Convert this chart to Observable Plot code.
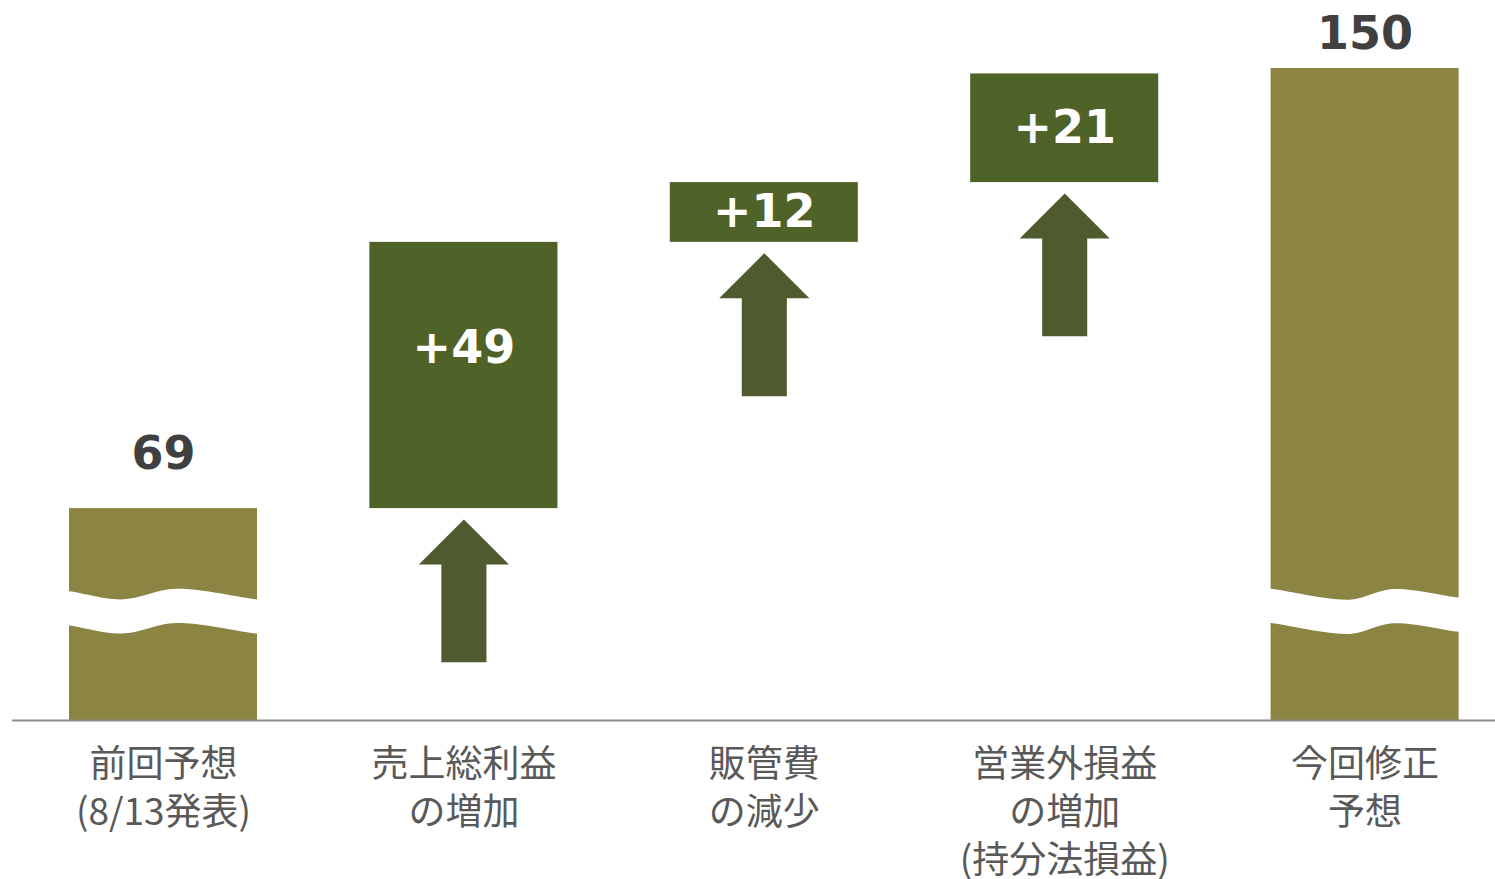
<!DOCTYPE html>
<html>
<head>
<meta charset="utf-8">
<script src="https://cdn.jsdelivr.net/npm/d3@7"></script>
<script src="https://cdn.jsdelivr.net/npm/@observablehq/plot@0.6"></script>
<style>
  html, body { margin: 0; padding: 0; background: #ffffff; }
  #chart { width: 1495px; height: 879px; }
</style>
</head>
<body>
<div id="chart"></div>
<script>
// ---- data ----
const categories = [
  "前回予想\n(8/13発表)",
  "売上総利益\nの増加",
  "販管費\nの減少",
  "営業外損益\nの増加\n(持分法損益)",
  "今回修正\n予想"
];
const startValue = 69;
const endValue = 150;
const totalLabels = ["69", "150"];
const deltaValues = [49, 11, 20];          // drawn step heights
const deltaLabels = ["+49", "+12", "+21"];

// ---- derived tables ----
const yFloor = 30;       // truncated value axis starts here
const breakLevel = 51;   // where the axis break wave sits
const halfBar = 0.313;

const totals = [
  {i: 0, top: startValue, label: totalLabels[0]},
  {i: categories.length - 1, top: endValue, label: totalLabels[1]}
];
let run = startValue;
const steps = deltaValues.map((d, k) => {
  const bottom = run; run += d;
  return {i: k + 1, bottom, top: run, label: deltaLabels[k]};
});

// block arrows under each step (shape in value units / band units)
const arrows = [];
steps.forEach(s => {
  const tip = s.bottom - 2.0, head = tip - 8.3, base = tip - 26.3;
  const hw = 0.15, sw = 0.075;
  [[-sw, base], [-sw, head], [-hw, head], [0, tip], [hw, head], [sw, head], [sw, base]]
    .forEach(([dx, y]) => arrows.push({k: s.i, x: s.i + dx, y}));
});

// white wavy break bands across the total bars
const waveShapes = [
  {i: 0, t: [-0.04, 0, 0.28, 0.57, 1, 1.04], d: [0.45, 0.45, 1.95, 0, 1.95, 1.95]},
  {i: categories.length - 1, t: [-0.04, 0, 0.42, 0.65, 1, 1.04], d: [0, 0, 2.0, 0.05, 1.6, 1.6]}
];
const gap = 6.3;
const wave = [];
waveShapes.forEach(w => w.t.forEach((t, j) => wave.push({
  k: w.i,
  x: w.i - halfBar + t * 2 * halfBar,
  y1: breakLevel - gap / 2 - w.d[j],
  y2: breakLevel + gap / 2 - w.d[j]
})));

const xDomain = [-163 / 300.4, (1495 - 163) / 300.4];
const numFont = "'DejaVu Sans', Verdana, sans-serif";
const jpFont = "'Noto Sans CJK JP', 'Noto Sans', sans-serif";

const chart = Plot.plot({
  width: 1495,
  height: 879,
  marginTop: 68,
  marginBottom: 159,
  marginLeft: 0,
  marginRight: 0,
  style: {background: "#ffffff", overflow: "visible"},
  x: {type: "linear", domain: xDomain, axis: null},
  y: {domain: [yFloor, endValue], axis: null},
  marks: [
    // total bars
    Plot.rectY(totals, {x1: d => d.i - halfBar, x2: d => d.i + halfBar, y1: yFloor, y2: "top", fill: "#8c8443"}),
    // break bands
    Plot.areaY(wave, {x: "x", y1: "y1", y2: "y2", z: "k", fill: "#ffffff", curve: "catmull-rom"}),
    // step boxes
    Plot.rectY(steps, {x1: d => d.i - halfBar, x2: d => d.i + halfBar, y1: "bottom", y2: "top", fill: "#4f6228"}),
    // arrows
    Plot.line(arrows, {x: "x", y: "y", z: "k", fill: "#4f5a2f", stroke: "none"}),
    // baseline
    Plot.ruleY([yFloor], {x1: -0.503, x2: xDomain[1], stroke: "#8c8c8c", strokeWidth: 2}),
    // total labels
    Plot.text(totals, {
      x: "i", y: d => Math.min(d.top + 7.2, endValue + 3.5), text: "label",
      lineAnchor: "bottom", fontSize: 46, fontWeight: "bold", fontFamily: numFont, fill: "#404040"
    }),
    // step labels
    Plot.text(steps, {
      x: "i", y: d => d.top - Math.min((d.top - d.bottom) / 2, 19.5), text: "label",
      lineAnchor: "middle", fontSize: 46, fontWeight: "bold", fontFamily: numFont, fill: "#ffffff"
    }),
    // category axis
    Plot.axisX(d3.range(categories.length), {
      tickFormat: i => categories[i], tickSize: 0, tickPadding: 22,
      fontSize: 37, lineHeight: 1.3, fontFamily: jpFont, fill: "#595959"
    })
  ]
});
document.getElementById("chart").appendChild(chart);
</script>
</body>
</html>
